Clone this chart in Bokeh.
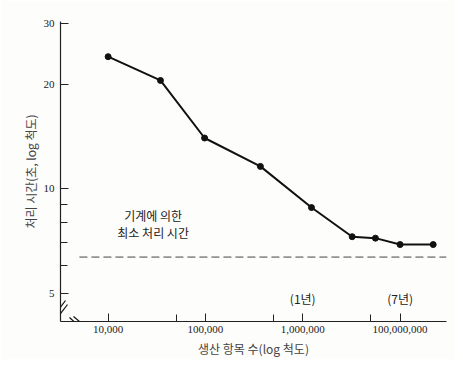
import math
from bokeh.plotting import figure
from bokeh.models import Range1d, FixedTicker, Arrow, ColumnDataSource
from bokeh.core.properties import value
from bokeh.embed import file_html
from bokeh.resources import INLINE

# ---- data ----
items = [10000, 34500, 98000, 367000, 1230000, 3220000, 5580000, 10000000, 21900000]
seconds = [24.0, 20.5, 14.0, 11.6, 8.83, 7.28, 7.21, 6.91, 6.91]

min_time = 6.36
min_line_x = [5070, 30000000]

x_major = [10000, 100000, 1000000, 10000000]
x_major_labels = ["10,000", "100,000", "1,000,000", "100,000,000"]
x_minor = [50000, 500000, 5000000]

y_major = [5, 10, 20, 30]
y_minor = [6, 7, 8, 9]

year_labels = ["(1년)", "(7년)"]
year_x = [1000000, 10000000]
year_y = [4.83, 4.83]

note_lines = ["기계에 의한", "최소 처리 시간"]
note_x = [29000, 29000]
note_y = [8.37, 7.48]

x_lo, x_hi = 3240, 30000000
y_lo, y_hi = 4.15, 30.3

W, H = 455, 359
BL, BR, BT, BB = 60, 9, 21, 38

KR = "Noto Sans CJK KR"
SERIF = "Liberation Serif"

p = figure(width=W, height=H, x_axis_type="log", y_axis_type="log",
           x_range=Range1d(x_lo, x_hi), y_range=Range1d(y_lo, y_hi),
           output_backend="svg", toolbar_location=None,
           min_border_left=BL, min_border_right=BR, min_border_top=BT, min_border_bottom=BB,
           background_fill_color="#fdfdfb", border_fill_color="#fdfdfb")
p.outline_line_color = None
p.grid.visible = False

# axes
xa = p.xaxis[0]
xa.ticker = FixedTicker(ticks=x_major, minor_ticks=x_minor)
xa.major_label_overrides = {t: l for t, l in zip(x_major, x_major_labels)}
ya = p.yaxis[0]
ya.ticker = FixedTicker(ticks=y_major, minor_ticks=y_minor)
ya.major_label_overrides = {t: str(t) for t in y_major}
for ax in (xa, ya):
    ax.axis_line_color = "#222222"
    ax.axis_line_width = 1.2
    ax.major_tick_in = 8
    ax.major_tick_out = 0
    ax.minor_tick_in = 7
    ax.minor_tick_out = 0
    ax.major_tick_line_color = "#222222"
    ax.minor_tick_line_color = "#222222"
    ax.major_label_text_font = SERIF
    ax.major_label_text_font_size = "11px"
    ax.major_label_text_color = "#1a1a1a"
    ax.axis_label_text_font = KR
    ax.axis_label_text_font_style = "normal"
    ax.axis_label_text_font_size = "12px"
    ax.axis_label_text_color = "#444444"
xa.major_label_standoff = 4
xa.axis_label_standoff = 4
ya.major_label_standoff = 6
ya.axis_label_standoff = 2
xa.axis_label = "생산 항목 수(log 척도)"
ya.axis_label = "처리 시간(초, log 척도)"

# minimum machine time dashed line
p.line(min_line_x, [min_time, min_time], line_color="#444444", line_width=1,
       line_dash="8 4")

# data line
src = ColumnDataSource(dict(x=items, y=seconds))
p.line("x", "y", source=src, line_color="#111111", line_width=2)
p.scatter("x", "y", source=src, size=6, color="#111111")

# annotations
p.text(year_x, year_y, text=year_labels, text_font=value(KR), text_font_size="12px",
       text_color="#222222", text_align="center", text_baseline="middle")
p.text(note_x, note_y, text=note_lines, text_font=value(KR), text_font_size="12px",
       text_color="#222222", text_align="center", text_baseline="middle")

# axis break marks (pixel offsets from frame's bottom-left corner -> data)
frame_w = W - BL - BR
frame_h = H - BT - BB
ppd_x = frame_w / (math.log10(x_hi) - math.log10(x_lo))
ppd_y = frame_h / (math.log10(y_hi) - math.log10(y_lo))

def at(dx, dy):
    return (10 ** (math.log10(x_lo) + dx / ppd_x), 10 ** (math.log10(y_lo) + dy / ppd_y))

for (a, b) in [((-5, 8), (5, 21)), ((-3, 4), (7, 17)),
               ((9, 4), (20, -6)), ((13, 5), (25, -5))]:
    (x0, y0), (x1, y1) = at(*a), at(*b)
    p.add_layout(Arrow(x_start=x0, y_start=y0, x_end=x1, y_end=y1, end=None,
                       line_color="#111111", line_width=1.2))

open("out.html", "w").write(file_html(p, INLINE))
